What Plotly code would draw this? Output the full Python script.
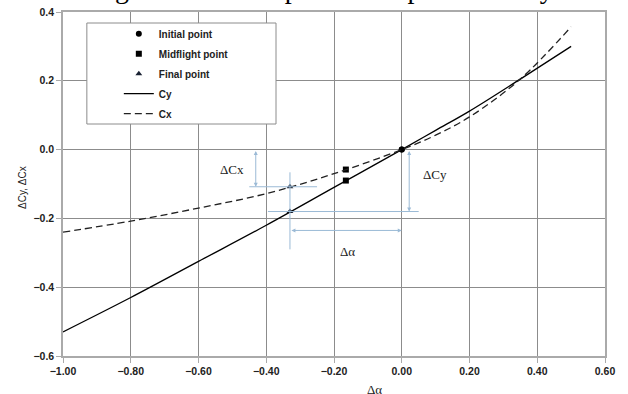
import plotly.graph_objects as go

# ---- data ----
alpha = [-1.0, -0.8, -0.6, -0.4, -0.2, 0.0, 0.1, 0.2, 0.35, 0.5]
cy = [-0.53, -0.43, -0.325, -0.22, -0.11, 0.0, 0.056, 0.112, 0.205, 0.30]
cx = [-0.24, -0.208, -0.17, -0.128, -0.07, 0.0, 0.042, 0.095, 0.205, 0.357]

initial_alpha = [0.0, 0.0]
initial_vals = [0.0, 0.0]
mid_alpha = [-0.165, -0.165]
mid_vals = [-0.058, -0.09]
final_alpha = [-0.33, -0.33]
final_vals = [-0.108, -0.18]

x_ticks = [-1.0, -0.8, -0.6, -0.4, -0.2, 0.0, 0.2, 0.4, 0.6]
y_ticks = [-0.6, -0.4, -0.2, 0.0, 0.2, 0.4]

# fragments of the cropped caption line above the chart
caption_chars = ["g", "p", "p", "y"]
caption_alpha = [-0.826, -0.325, 0.038, 0.428]

ANN = "#9bbad6"
TXT = "#222222"
H_TOP = 12          # strip above plot area (px)
PLOT_H = 344
TOT_H = PLOT_H + H_TOP

fig = go.Figure()
fig.add_trace(go.Scatter(x=initial_alpha, y=initial_vals, mode="markers", name="Initial point",
                         legendgroup="a", marker=dict(symbol="circle", size=6, color="black")))
fig.add_trace(go.Scatter(x=mid_alpha, y=mid_vals, mode="markers", name="Midflight point",
                         legendgroup="b", marker=dict(symbol="square", size=6, color="black")))
fig.add_trace(go.Scatter(x=final_alpha, y=final_vals, mode="markers", name="Final point",
                         legendgroup="c", marker=dict(symbol="triangle-up", size=6, color="#1a2233")))
fig.add_trace(go.Scatter(x=alpha, y=cy, mode="lines", name="Cy", legendgroup="d",
                         line=dict(color="black", width=1.3, shape="spline")))
fig.add_trace(go.Scatter(x=alpha, y=cx, mode="lines", name="Cx", legendgroup="e",
                         line=dict(color="#222222", width=1.3, dash="7px,4px", shape="spline")))
# caption glyphs, clipped by a hidden strip subplot at the very top
CAP_FS = 28
CAP_BASELINE = -2   # nominal px from figure top (only descenders remain visible)
fig.add_trace(go.Scatter(x=caption_alpha,
                         y=[H_TOP - (CAP_BASELINE - 0.25 * CAP_FS)] * len(caption_chars),
                         mode="text", text=caption_chars, textposition="middle center",
                         textfont=dict(family="Liberation Serif", size=CAP_FS, color="black"),
                         xaxis="x2", yaxis="y2", cliponaxis=True, showlegend=False,
                         hoverinfo="skip"))

fa = final_alpha[0]
fcx, fcy = final_vals[0], final_vals[1]

ydom_top = PLOT_H / TOT_H
def py(v):  # paper y of a plot-area fraction
    return v * ydom_top

shapes = [
    # legend box
    dict(type="rect", xref="paper", yref="paper", x0=0.044, x1=0.393, y0=py(0.6744), y1=py(0.968),
         line=dict(color="#8c8c8c", width=1), fillcolor="white", layer="above"),
    dict(type="line", x0=fa - 0.12, x1=fa + 0.08, y0=fcx, y1=fcx, line=dict(color=ANN, width=1)),
    dict(type="line", x0=fa, x1=fa, y0=fcx + 0.042, y1=fcy - 0.11, line=dict(color=ANN, width=1)),
    dict(type="line", x0=fa - 0.065, x1=0.05, y0=fcy, y1=fcy, line=dict(color=ANN, width=1)),
]

def darrow(x0, y0, x1, y1):
    return dict(x=x1, y=y1, ax=x0, ay=y0, xref="x", yref="y", axref="x", ayref="y",
                text="", showarrow=True, arrowhead=2, startarrowhead=2, arrowside="end+start",
                arrowsize=0.8, startarrowsize=0.8, arrowwidth=1, arrowcolor=ANN)

annotations = [
    darrow(-0.431, 0.0, -0.431, fcx),
    darrow(0.022, 0.0, 0.022, fcy),
    darrow(fa, -0.235, 0.0, -0.235),
    dict(x=-0.50, y=-0.058, xref="x", yref="y", text="ΔCx", showarrow=False,
         font=dict(family="Liberation Serif", size=13, color=TXT)),
    dict(x=0.098, y=-0.073, xref="x", yref="y", text="ΔCy", showarrow=False,
         font=dict(family="Liberation Serif", size=13, color=TXT)),
    dict(x=-0.16, y=-0.297, xref="x", yref="y", text="Δα", showarrow=False,
         font=dict(family="Liberation Serif", size=13, color=TXT)),
    dict(x=0.574, y=-43 / TOT_H, xref="paper", yref="paper", yanchor="bottom", text="Δα",
         showarrow=False, font=dict(family="Liberation Serif", size=13, color=TXT)),
    dict(x=-0.0886, y=py(0.49), xref="paper", yref="paper", text="ΔCy, ΔCx", showarrow=False,
         textangle=-90, font=dict(family="Liberation Sans", size=10, color=TXT)),
]

axis_common = dict(showgrid=True, gridcolor="#8c8c8c", gridwidth=1, zeroline=False,
                   showline=True, linecolor="#aaaaaa", linewidth=1.5, mirror=True,
                   ticks="outside", ticklen=5, tickcolor="#aaaaaa",
                   tickfont=dict(size=10.5, color=TXT, weight="bold"))

fig.update_layout(
    width=628, height=394,
    margin=dict(l=63, r=23, t=0, b=38, autoexpand=False),
    paper_bgcolor="white", plot_bgcolor="white",
    font=dict(family="Liberation Sans", size=11, color=TXT),
    shapes=shapes, annotations=annotations,
    legend=dict(x=0.103, y=py(0.979), xanchor="left", yanchor="top", bgcolor="rgba(0,0,0,0)",
                font=dict(family="Liberation Sans", size=10, color=TXT, weight="bold"),
                tracegroupgap=1),
    xaxis=dict(range=[-1.0, 0.6], tickvals=x_ticks, tickformat=".2f", domain=[0, 1],
               anchor="y", **axis_common),
    yaxis=dict(range=[-0.6, 0.4], tickvals=y_ticks, tickformat=".1f", domain=[0, ydom_top],
               anchor="x", **axis_common),
    xaxis2=dict(range=[-1.0, 0.6], domain=[0, 1], anchor="y2", visible=False),
    yaxis2=dict(range=[0, H_TOP], domain=[ydom_top, 1], anchor="x2", visible=False),
)

fig.write_html("out.html", config={"displayModeBar": False},
               post_script="document.body.style.margin='0px';")
